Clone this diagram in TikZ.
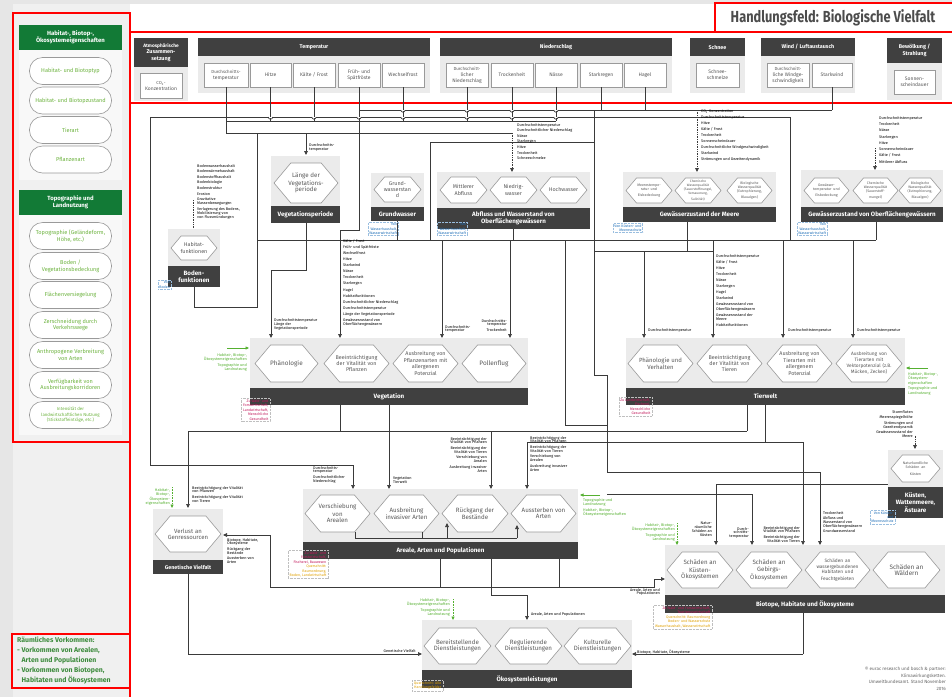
\documentclass[tikz,border=0pt]{standalone}
\usepackage{fontspec}
\setmainfont{Fira Sans}
\usetikzlibrary{arrows.meta}
\definecolor{hdr}{HTML}{404040}
\definecolor{bgg}{HTML}{EBEBEB}
\definecolor{hexb}{HTML}{9A9A9A}
\definecolor{hext}{HTML}{595959}
\definecolor{gdark}{HTML}{127A36}
\definecolor{glight}{HTML}{6DB33F}
\definecolor{gnote}{HTML}{55B030}
\definecolor{gbot}{HTML}{3D8B3D}
\definecolor{pinkt}{HTML}{C2185B}
\definecolor{orat}{HTML}{E0A000}
\definecolor{bluet}{HTML}{1F6FB8}
\definecolor{lnc}{HTML}{3A3A3A}
\definecolor{pagel}{HTML}{E6E6E6}
\definecolor{panel}{HTML}{F0F0F0}
\definecolor{panelw}{HTML}{F8F8F8}
\definecolor{redb}{HTML}{FF0000}
\newcommand{\hexa}[6]{%
  \pgfmathsetmacro{\hd}{0.42*(#5-#3)}%
  \pgfmathsetmacro{\hw}{0.74*(#4-#2)}%
  \draw[hexline] (#2,{(#3+#5)/2}) -- ({#2+\hd},#3) -- ({#4-\hd},#3) -- (#4,{(#3+#5)/2}) -- ({#4-\hd},#5) -- ({#2+\hd},#5) -- cycle;
  \node[hextext,text width=\hw pt] (#1) at ({(#2+#4)/2},{(#3+#5)/2}) {#6};}
\newcommand{\sector}[7]{%
  \fill[bgg] (#2,#3) rectangle (#4,#5);
  \fill[hdr] (#2,#5) rectangle (#4,#6);
  \node[bartext] (#1) at ({(#2+#4)/2},{(#5+#6)/2}) {#7};}
\newcommand{\cbox}[6]{%
  \draw[cboxs] (#2,#3) rectangle (#4,#5);
  \node[cboxt] (#1) at ({(#2+#4)/2},{(#3+#5)/2}) {#6};}
\newcommand{\chead}[6]{%
  \fill[hdr] (#2,#3) rectangle (#4,#5);
  \node[cheadt] (#1) at ({(#2+#4)/2},{(#3+#5)/2}) {#6};}
\newcommand{\hop}[2]{\fill[white] ({#1-2.2},{#2-0.5}) rectangle ({#1+2.2},{#2+0.5}); \draw[ln] ({#1-2.2},#2) arc[start angle=180,end angle=0,radius=2.2];}
\begin{document}
\begin{tikzpicture}[x=1pt,y=-1pt,
  hexline/.style={draw=hexb, fill=white, line width=0.6pt},
  hextext/.style={align=center, inner sep=0pt, text=hext, font=\fontsize{5.4}{6.4}\selectfont},
  bartext/.style={text=white, font=\fontsize{6.2}{7.4}\selectfont\bfseries, align=center, inner sep=0pt},
  cboxs/.style={draw=hexb, fill=white, line width=0.6pt},
  cboxt/.style={align=center, inner sep=0pt, text=hext, font=\fontsize{5}{6}\selectfont},
  cheadt/.style={align=center, inner sep=0pt, text=white, font=\fontsize{5.4}{6.4}\selectfont\bfseries},
  lbl/.style={font=\fontsize{3.8}{5.6}\selectfont, align=left, inner sep=0pt, anchor=north west},
  lblr/.style={lbl, align=right, anchor=north east},
  ln/.style={draw=lnc, line width=0.7pt},
  ar/.style={ln, -{Triangle[length=4pt,width=3.6pt]}},
  dar/.style={ar, densely dotted},
  gar/.style={draw=gnote, line width=0.6pt, -{Triangle[length=3.5pt,width=3pt]}},
  gnotet/.style={font=\fontsize{3.8}{4.6}\selectfont, text=gnote, align=right, inner sep=0pt, anchor=north east},
  pill/.style={draw=hexb, fill=white, rounded corners=13pt, minimum width=82pt, minimum height=27pt, text=glight, font=\fontsize{5.6}{6.8}\selectfont, align=center, line width=0.6pt, inner sep=1pt},
  ghead/.style={fill=gdark, text=white, font=\fontsize{6}{7.2}\selectfont\bfseries, align=center, minimum width=103pt, minimum height=25pt, inner sep=0pt},
  btag/.style={draw=bluet!45, densely dotted, line width=0.4pt, text=bluet, font=\fontsize{3.6}{4.2}\selectfont, align=right, inner sep=1.2pt},
  ptag/.style={draw=black!25, densely dotted, line width=0.4pt, font=\fontsize{3.6}{4.4}\selectfont, align=right, inner sep=1.5pt}
]
\useasboundingbox (0,0) rectangle (952,697);
\fill[white] (0,0) rectangle (952,697);
\fill[pagel] (0,0) rectangle (952,4);
\fill[pagel] (0,0) rectangle (13,697);
\fill[panel] (13,4) rectangle (130,697);
% ---------- left panel
\node[ghead] (h1) at (70.5,37.5) {Habitat-, Biotop-,\\Ökosystemeigenschaften};
\fill[panelw] (19,50) rectangle (122,180);
\node[pill] (p1) at (70.5,71) {Habitat- und Biotoptyp};
\node[pill] (p2) at (70.5,100.5) {Habitat- und Biotopzustand};
\node[pill] (p3) at (70.5,130) {Tierart};
\node[pill] (p4) at (70.5,159.5) {Pflanzenart};
\node[ghead] (h2) at (70.5,202.5) {Topographie und\\Landnutzung};
\fill[panelw] (19,215) rectangle (122,435);
\node[pill] (p5) at (70.5,236) {Topographie (Geländeform,\\Höhe, etc.)};
\node[pill] (p6) at (70.5,266) {Boden /\\Vegetationsbedeckung};
\node[pill] (p7) at (70.5,295) {Flächenversiegelung};
\node[pill] (p8) at (70.5,325) {Zerschneidung durch\\Verkehrswege};
\node[pill] (p9) at (70.5,355) {Anthropogene Verbreitung\\von Arten};
\node[pill] (p10) at (70.5,385) {Verfügbarkeit von\\Ausbreitungskorridoren};
\node[pill,font=\fontsize{4.4}{5.4}\selectfont] (p11) at (70.5,415) {Intensität der\\landwirtschaftlichen Nutzung\\(Stickstoffeinträge, etc.)};
\node[anchor=north west, inner sep=0pt, text=gbot, align=left, font=\fontsize{6.9}{10}\selectfont\bfseries] (rv) at (17,637) {Räumliches Vorkommen:\\- Vorkommen von Arealen,\\\hphantom{- }Arten und Populationen\\- Vorkommen von Biotopen,\\\hphantom{- }Habitaten und Ökosystemen};
\draw[redb, line width=1.5pt] (13,13) rectangle (130,442);
\draw[redb, line width=1.5pt] (12,634) rectangle (130,688);
\draw[redb, line width=1.5pt] (130,13) -- (130,697);
% ---------- title
\draw[redb, line width=1.5pt] (715,3) rectangle (955,32);
\node[text=black!70, inner sep=0pt] (title) at (833,18) {\scalebox{0.8}[1]{\fontsize{16}{18}\selectfont\bfseries Handlungsfeld: Biologische Vielfalt}};
\draw[redb, line width=1.5pt] (130,32) rectangle (955,103);
% ---------- climate stimuli
\fill[bgg] (134,38) rectangle (188,101);
\chead{ha}{134}{38}{188}{67}{\fontsize{4.8}{5.8}\selectfont Atmosphärische\\Zusammen-\\setzung}
\cbox{cco}{140}{73}{182}{98}{\fontsize{4.4}{5.6}\selectfont CO\textsubscript{2}-\\Konzentration}
\fill[bgg] (198,38) rectangle (430,93);
\chead{ht}{198}{38}{430}{56}{Temperatur}
\cbox{cdt}{204}{63}{248}{87}{\fontsize{4.4}{5.6}\selectfont Durchschnitts-\\temperatur}
\cbox{chi}{250}{63}{291}{87}{Hitze}
\cbox{ckf}{293}{63}{335}{87}{Kälte / Frost}
\cbox{cfs}{338}{63}{380}{87}{Früh- und\\Spätfröste}
\cbox{cwf}{382}{63}{424}{87}{Wechselfrost}
\fill[bgg] (440,38) rectangle (672,93);
\chead{hn}{440}{38}{672}{56}{Niederschlag}
\cbox{cdn}{446}{63}{488}{87}{\fontsize{4.4}{5.6}\selectfont Durchschnitt-\\licher\\Niederschlag}
\cbox{ctr}{491}{63}{533}{87}{Trockenheit}
\cbox{cna}{535}{63}{577}{87}{Nässe}
\cbox{csr}{580}{63}{622}{87}{Starkregen}
\cbox{cha}{624}{63}{666}{87}{Hagel}
\fill[bgg] (690,38) rectangle (745,93);
\chead{hs}{690}{38}{745}{56}{Schnee}
\cbox{csc}{696}{63}{739}{87}{Schnee-\\schmelze}
\fill[bgg] (761,38) rectangle (855,93);
\chead{hw}{761}{38}{855}{56}{Wind / Luftaustausch}
\cbox{cdw}{767}{63}{809}{87}{\fontsize{4.4}{5.6}\selectfont Durchschnitt-\\liche Windge-\\schwindigkeit}
\cbox{csw}{812}{63}{852}{87}{Starkwind}
\fill[bgg] (887,38) rectangle (942,100);
\chead{hb}{887}{38}{942}{63}{Bewölkung /\\Strahlung}
\cbox{csd}{894}{70}{935}{94}{Sonnen-\\scheindauer}
% ---------- connectors, top bus
\draw[ln] (359,110) -- (832,110);
\draw[ln] (790,240) -- (790,117) -- (150,117) -- (150,465) -- (353,465);
\draw[ln] (226,121) -- (556,121);
\draw[ln] (226,133) -- (512,133);
\draw[ln] (430,240) -- (430,142) -- (594,142);
\draw[ln] (226,87) -- (226,133);
\draw[ln] (270.5,87) -- (270.5,121);
\draw[ln] (314,87) -- (314,121);
\draw[ln] (359,87) -- (359,230) -- (340,230);
\draw[ln] (403,87) -- (403,121);
\draw[ln] (467,87) -- (467,121);
\draw[ln] (512,87) -- (512,121);
\draw[ln] (556,87) -- (556,121);
\draw[ln] (601,87) -- (601,110);
\draw[ln] (645,87) -- (645,110);
\draw[ln] (832,87) -- (832,110);
\hop{270.5}{117}\hop{314}{117}\hop{359}{117}\hop{403}{117}\hop{403}{110.01}\hop{467}{117}\hop{467}{110.01}\hop{512}{117}\hop{512}{110.01}\hop{556}{117}\hop{556}{110.01}
\draw[ar] (353,465) -- (353,489);
\draw[ar] (306,133) -- (306,155);
\draw[dar] (512,133) -- (512,172);
\draw[dar] (697,110) -- (697,172);
\coordinate (oq) at (875,148);
\draw[dar] (oq) -- (875,170);
\coordinate (bq) at (193,200);
\draw[dar] (bq) -- (193,234);
\draw[ln] (257,133) -- (257,307) -- (194,307) -- (194,287);
% distribution
\draw[ln] (257,240) -- (876,240);
\draw[ln] (594,251) -- (713,251);
\draw[ln] (306,223) -- (306,270) -- (271,270);
\draw[ar] (271,270) -- (271,338);
\draw[ar] (340,230) -- (340,338);
\draw[ar] (442,240) -- (442,338);
\draw[ar] (510,240) -- (510,338);
\draw[ln] (397,221) -- (397,240);
\draw[ln] (513,229) -- (513,240);
\draw[ln] (687,222) -- (687,251);
\draw[ln] (876,222) -- (876,240);
\draw[ar] (644,251) -- (644,338);
\draw[ar] (713,240) -- (713,338);
\draw[ar] (783,240) -- (783,338);
\draw[ar] (853,240) -- (853,338);
\draw[ln] (594,110) -- (594,375) -- (607,375) -- (607,472) -- (820,472);
\draw[ar] (820,472) -- (820,545);
\draw[ln] (565,240) -- (565,425) -- (607,425);
% lower network
\draw[ln] (340,405) -- (340,431);
\draw[ln] (188,431) -- (747,431);
\draw[ln] (747,405) -- (747,431);
\draw[ln] (765,405) -- (765,442);
\draw[ln] (527,442) -- (803,442);
\draw[ar] (803,442) -- (803,545);
\draw[ar] (188,431) -- (188,508);
\draw[ar] (389,405) -- (389,489);
\draw[ar] (491,431) -- (491,489);
\draw[ar] (527,442) -- (527,489);
\draw[ln] (607,494) -- (752,494);
\draw[ar] (752,494) -- (752,545);
\draw[ln] (888,484) -- (716,484);
\draw[ar] (716,484) -- (716,545);
% ---------- sectors
\sector{sbf}{168}{229}{220}{266}{287}{Boden-\\funktionen}
\hexa{xhf}{171}{236}{217}{260}{Habitat-\\funktionen}
\sector{svp}{271}{156}{340}{206}{223}{Vegetationsperiode}
\hexa{xlv}{274}{163}{338}{203}{\fontsize{6.2}{7.2}\selectfont Länge der\\Vegetations-\\periode}
\sector{sgw}{371}{173}{424}{207}{221}{Grundwasser}
\hexa{xgw}{374}{177}{421}{202}{Grund-\\wasserstan\\d}
\sector{sab}{437}{172}{590}{208}{229}{Abfluss und Wasserstand von\\Oberflächengewässern}
\hexa{xma}{440}{177}{487}{203}{Mittlerer\\Abfluss}
\hexa{xnw}{490}{177}{537}{203}{Niedrig-\\wasser}
\hexa{xhw}{540}{177}{587}{203}{Hochwasser}
\sector{sme}{623}{172}{776}{207}{222}{Gewässerzustand der Meere}
\hexa{xm1}{626}{178}{672}{203}{\fontsize{3.6}{4.3}\selectfont Meerestempe-\\ratur und\\Eisbedeckung}
\hexa{xm2}{675}{178}{721}{203}{\fontsize{3.3}{3.8}\selectfont Chemische\\Wasserqualität\\(Sauerstoffmangel,\\Versauerung,\\Salinität)}
\hexa{xm3}{727}{178}{772}{203}{\fontsize{3.5}{4.2}\selectfont Biologische\\Wasserqualität\\(Eutrophierung,\\Blaualgen)}
\sector{sog}{801}{170}{943}{207}{222}{Gewässerzustand von Oberflächengewässern}
\hexa{xo1}{804}{178}{849}{203}{\fontsize{3.6}{4.3}\selectfont Gewässer-\\temperatur und\\Eisbedeckung}
\hexa{xo2}{853}{178}{898}{203}{\fontsize{3.5}{4.2}\selectfont Chemische\\Wasserqualität\\(Sauerstoff-\\mangel)}
\hexa{xo3}{899}{178}{941}{203}{\fontsize{3.5}{4.2}\selectfont Biologische\\Wasserqualität\\(Eutrophierung,\\Blaualgen)}
\sector{sve}{250}{338}{528}{388}{405}{Vegetation}
\hexa{xph}{255}{345}{318}{382}{\fontsize{6.4}{7.4}\selectfont Phänologie}
\hexa{xbp}{324}{345}{389}{382}{Beeinträchtigung\\der Vitalität von\\Pflanzen}
\hexa{xap}{393}{345}{458}{382}{Ausbreitung von\\Pflanzenarten mit\\allergenem\\Potenzial}
\hexa{xpf}{462}{345}{526}{382}{\fontsize{6.4}{7.4}\selectfont Pollenflug}
\sector{stw}{626}{338}{905}{388}{405}{Tierwelt}
\hexa{xpv}{628}{345}{693}{382}{\fontsize{6}{7.2}\selectfont Phänologie und\\Verhalten}
\hexa{xbt}{697}{345}{762}{382}{Beeinträchtigung\\der Vitalität von\\Tieren}
\hexa{xat}{767}{345}{832}{382}{Ausbreitung von\\Tierarten mit\\allergenem\\Potenzial}
\hexa{xvt}{836}{345}{902}{382}{\fontsize{4.8}{5.8}\selectfont Ausbreitung von\\Tierarten mit\\Vektorpotenzial (z.B.\\Mücken, Zecken)}
\sector{sku}{888}{450}{943}{487}{518}{Küsten,\\Wattenmeere,\\Ästuare}
\hexa{xku}{891}{455}{940}{482}{\fontsize{3.6}{4.3}\selectfont Naturkundliche\\Schäden an\\Küsten}
\sector{sar}{303}{489}{578}{542}{559}{Areale, Arten und Populationen}
\hexa{xva}{305}{495}{370}{532}{\fontsize{6.2}{7.4}\selectfont Verschiebung von\\Arealen}
\hexa{xai}{374}{495}{439}{532}{\fontsize{6.2}{7.4}\selectfont Ausbreitung\\invasiver Arten}
\hexa{xrb}{442}{495}{508}{532}{\fontsize{6.2}{7.4}\selectfont Rückgang der\\Bestände}
\hexa{xaa}{511}{495}{576}{532}{\fontsize{6.2}{7.4}\selectfont Aussterben von\\Arten}
\sector{sgv}{153}{509}{223}{560}{574}{\fontsize{5.4}{6.4}\selectfont Genetische Vielfalt}
\hexa{xvg}{155}{516}{221}{552}{\fontsize{6}{7.2}\selectfont Verlust an\\Genressourcen}
\sector{sok}{422}{620}{632}{670}{688}{Ökosystemleistungen}
\hexa{xbd}{424}{628}{491}{664}{\fontsize{6.2}{7.4}\selectfont Bereitstellende\\Dienstleistungen}
\hexa{xrd}{495}{628}{562}{664}{\fontsize{6.2}{7.4}\selectfont Regulierende\\Dienstleistungen}
\hexa{xkd}{564}{628}{631}{664}{\fontsize{6.2}{7.4}\selectfont Kulturelle\\Dienstleistungen}
\sector{sbh}{665}{545}{945}{595}{613}{Biotope, Habitate und Ökosysteme}
\hexa{xsk}{667}{552}{733}{588}{\fontsize{6.2}{7.4}\selectfont Schäden an\\Küsten-\\Ökosystemen}
\hexa{xsg}{736}{552}{802}{588}{\fontsize{6.2}{7.4}\selectfont Schäden an\\Gebirgs-\\Ökosystemen}
\hexa{xsw}{805}{552}{870}{588}{\fontsize{4.8}{5.8}\selectfont Schäden an\\wassergebundenen\\Habitaten und\\Feuchtgebieten}
\hexa{xwa}{873}{552}{940}{588}{\fontsize{6.4}{7.6}\selectfont Schäden an\\Wäldern}
% internal / output connectors
\draw[ln] (355,532) -- (355,538) -- (447,538);
\draw[ar] (447,538) -- (447,523);
\draw[ln] (422,532) -- (422,538);
\draw[ln] (447,538) -- (517,538);
\draw[ar] (517,538) -- (517,525);
\draw[ln] (491,559) -- (491,595) -- (527,595);
\draw[ar] (527,595) -- (527,620);
\draw[ln] (440,559) -- (440,587);
\draw[ln] (559,559) -- (559,587);
\draw[ln] (270,535) -- (270,587) -- (654,587) -- (654,579);
\draw[ar] (654,579) -- (665,579);
\draw[ar] (270,535) -- (223,535);
\draw[ln] (803,613) -- (803,654);
\draw[ar] (803,654) -- (632,654);
\draw[ln] (188,574) -- (188,654);
\draw[ar] (188,654) -- (422,654);
% ---------- labels
\node[lbl] (lb1) at (197,164) {Bodenwasserhaushalt\\Bodenwärmehaushalt\\Bodenstoffhaushalt\\Bodenbiologie\\Bodenstruktur\\Erosion\\Gravitative\\[-1.5pt]Massenbewegungen\\Verlagerung des Bodens,\\[-1.5pt]Mobilisierung von\\[-1.5pt]von Flussmündungen};
\node[lbl] (lb2) at (309,143) {Durchschnitts-\\[-1.5pt]temperatur};
\node[lbl] (lb3) at (517,123) {Durchschnittstemperatur\\Durchschnittlicher Niederschlag\\Nässe\\Starkregen\\Hitze\\Trockenheit\\Schneeschmelze};
\node[lbl,font=\fontsize{3.8}{6.1}\selectfont] (lb4) at (701,109) {CO\textsubscript{2}-Konzentration\\Durchschnittstemperatur\\Hitze\\Kälte / Frost\\Trockenheit\\Sonnenscheindauer\\Durchschnittliche Windgeschwindigkeit\\Starkwind\\Strömungen und Gezeitendynamik};
\node[lbl,font=\fontsize{3.8}{6.3}\selectfont] (lb5) at (879,116) {Durchschnittstemperatur\\Trockenheit\\Nässe\\Starkregen\\Hitze\\Sonnenscheindauer\\Kälte / Frost\\Mittlerer Abfluss};
\node[lbl] (lb6) at (274,318) {Durchschnittstemperatur\\[-1.5pt]Länge der\\[-1.5pt]Vegetationsperiode};
\node[lbl,font=\fontsize{3.8}{6.1}\selectfont] (lb7) at (343,239) {Kälte / Frost\\Früh- und Spätfröste\\Wechselfrost\\Hitze\\Starkwind\\Nässe\\Trockenheit\\Starkregen\\Hagel\\Habitatfunktionen\\Durchschnittlicher Niederschlag\\Durchschnittstemperatur\\Länge der Vegetationsperiode\\Gewässerzustand von\\[-1.8pt]Oberflächengewässern};
\node[lbl] (lb8) at (445,325) {Durchschnitts-\\[-1.8pt]temperatur};
\node[lblr] (lb9) at (507,319) {Durchschnitts-\\[-1.8pt]temperatur\\Trockenheit};
\node[lbl] (lb10) at (648,328) {Durchschnittstemperatur};
\node[lbl,font=\fontsize{3.8}{6.1}\selectfont] (lb11) at (716,254) {Durchschnittstemperatur\\Kälte / Frost\\Hitze\\Trockenheit\\Nässe\\Starkregen\\Hagel\\Starkwind\\Gewässerzustand von\\[-1.8pt]Oberflächengewässern\\Gewässerzustand der\\[-1.8pt]Meere\\Habitatfunktionen};
\node[lbl] (lb12) at (788,328) {Durchschnittstemperatur};
\node[lbl] (lb13) at (857,328) {Durchschnittstemperatur};
\node[lblr] (lb14) at (913,410) {Sturmfluten\\Meeresspiegelhöhe\\Strömungen und\\[-1.8pt]Gezeitendynamik\\Gewässerzustand der\\[-1.8pt]Meere};
\draw[dar] (lb14.south east) ++(2,-2) coordinate (kq) (kq) -- (915,449);
\node[lbl] (lb15) at (313,466) {Durchschnitts-\\[-1.8pt]temperatur\\Durchschnittlicher\\[-1.8pt]Niederschlag};
\node[lbl] (lb16) at (393,476) {Vegetation\\[-1.5pt]Tierwelt};
\node[lblr] (lb17) at (487,437) {Beeinträchtigung der\\[-1.8pt]Vitalität von Pflanzen\\Beeinträchtigung der\\[-1.8pt]Vitalität von Tieren\\Verschiebung von\\[-1.8pt]Arealen\\Ausbreitung invasiver\\[-1.8pt]Arten};
\node[lbl] (lb18) at (530,436) {Beeinträchtigung der\\[-1.8pt]Vitalität von Pflanzen\\Beeinträchtigung der\\[-1.8pt]Vitalität von Tieren\\Verschiebung von\\[-1.8pt]Arealen\\Ausbreitung invasiver\\[-1.8pt]Arten};
\node[lbl] (lb19) at (192,486) {Beeinträchtigung der Vitalität\\[-1.8pt]von Pflanzen\\Beeinträchtigung der Vitalität\\[-1.8pt]von Tieren};
\node[lbl] (lb20) at (227,538) {Biotope, Habitate,\\[-1.8pt]Ökosysteme\\Rückgang der\\[-1.8pt]Bestände\\Aussterben von\\[-1.8pt]Arten};
\node[lbl] (lb21) at (531,612) {Areale, Arten und Populationen};
\node[lbl] (lb22) at (637,650) {Biotope, Habitate, Ökosysteme};
\node[lblr] (lb23) at (416,649) {Genetische Vielfalt};
\node[lblr] (lb24) at (712,522) {Natur-\\[-1.8pt]räumliche\\[-1.8pt]Schäden an\\[-1.8pt]Küsten};
\node[lblr] (lb25) at (749,527) {Durch-\\[-1.8pt]schnitts-\\[-1.8pt]temperatur};
\node[lblr] (lb26) at (800,526) {Beeinträchtigung der\\[-1.8pt]Vitalität von Pflanzen\\Beeinträchtigung der\\[-1.8pt]Vitalität von Tieren};
\node[lbl] (lb27) at (823,511) {Trockenheit\\Abfluss und\\[-1.8pt]Wasserstand von\\[-1.8pt]Oberflächengewässern\\Grundwasserstand};
\node[lblr] (lb28) at (660,588) {Areale, Arten und\\[-1.8pt]Populationen};
% ---------- green notes
\draw[gar] (227,348) -- (249,348);
\node[gnotet] (g1) at (247,353) {Habitat-, Biotop-,\\Ökosystemeigenschaften\\[1pt]Topographie und\\Landnutzung};
\draw[gar] (928,368) -- (906,368);
\node[gnotet, align=left, anchor=north west] (g2) at (908,372) {Habitat-, Biotop-,\\Ökosystem-\\eigenschaften\\[1pt]Topographie und\\Landnutzung};
\draw[gar] (600,495) -- (580,495);
\node[gnotet, align=left, anchor=north west] (g3) at (583,498) {Topographie und\\Landnutzung\\[1pt]Habitat-, Biotop-,\\Ökosystemeigenschaften};
\node[gnotet] (g4) at (170,488) {Habitat-,\\Biotop-,\\Ökosystem-\\eigenschaften};
\draw[gar, densely dotted] (172,487) -- (172,508);
\node[gnotet] (g5) at (675,523) {Habitat-, Biotop-,\\Ökosystemeigenschaften\\[1pt]Topographie und\\Landnutzung};
\draw[gar, densely dotted] (677,523) -- (677,545);
\node[gnotet] (g6) at (450,598) {Habitat-, Biotop-,\\Ökosystemeigenschaften\\[1pt]Topographie und\\Landnutzung};
\draw[gar, densely dotted] (453,599) -- (453,620);
% ---------- tags
\node[btag, anchor=north west] (t1) at (158,280) {Von\\Boden};
\node[btag, anchor=north west] (t2) at (368,222) {Von\\Wasserhaushalt,\\Wasserwirtschaft};
\node[btag, anchor=north west] (t3) at (437,222) {Von\\Wasserhaushalt,\\Wasserwirtschaft};
\node[btag, anchor=north west] (t4) at (613,223) {Von Küsten- und\\Meeresschutz};
\node[btag, anchor=north west] (t5) at (797,222) {Von\\Wasserhaushalt,\\Wasserwirtschaft};
\node[btag, anchor=north west] (t6) at (870,510) {Von Küsten-\\und\\Meeresschutz};
\node[ptag, anchor=north east, text=pinkt] (t7) at (270,398) {Zu Wald- und\\Forstwirtschaft,\\Landwirtschaft,\\Menschliche\\Gesundheit};
\node[ptag, anchor=north east, text=pinkt] (t8) at (652,397) {Zu Landwirtschaft,\\Fischerei,\\Menschliche\\Gesundheit};
\node[ptag, anchor=north east] (t9) at (328,550) {\textcolor{pinkt}{Zu Wald- und}\\\textcolor{pinkt}{Forstwirtschaft,}\\\textcolor{pinkt}{Fischerei, Bauwesen}\\\textcolor{orat}{Querschnitt:}\\\textcolor{orat}{Raumordnung,}\\\textcolor{orat}{Boden, Landwirtschaft}};
\node[ptag, anchor=north east] (t10) at (712,605) {\textcolor{pinkt}{Zu Wald- und Forstwirtschaft,}\\\textcolor{pinkt}{Tourismuswirtschaft}\\\textcolor{orat}{Querschnitt: Raumordnung}\\\textcolor{orat}{Boden- und Wasserschutz}\\\textcolor{orat}{Wasserhaushalt, Wasserwirtschaft}};
\node[ptag, anchor=north east, text=orat] (t11) at (443,680) {Querschnitt: Alle\\Handlungsfelder};
% ---------- copyright
\node[anchor=north east, align=right, inner sep=0pt, text=black!60, font=\fontsize{4.6}{6.6}\selectfont] (cp) at (946,667) {© eurac research und bosch \& partner:\\Klimawirkungsketten.\\Umweltbundesamt. Stand November\\2016};
\end{tikzpicture}
\end{document}
